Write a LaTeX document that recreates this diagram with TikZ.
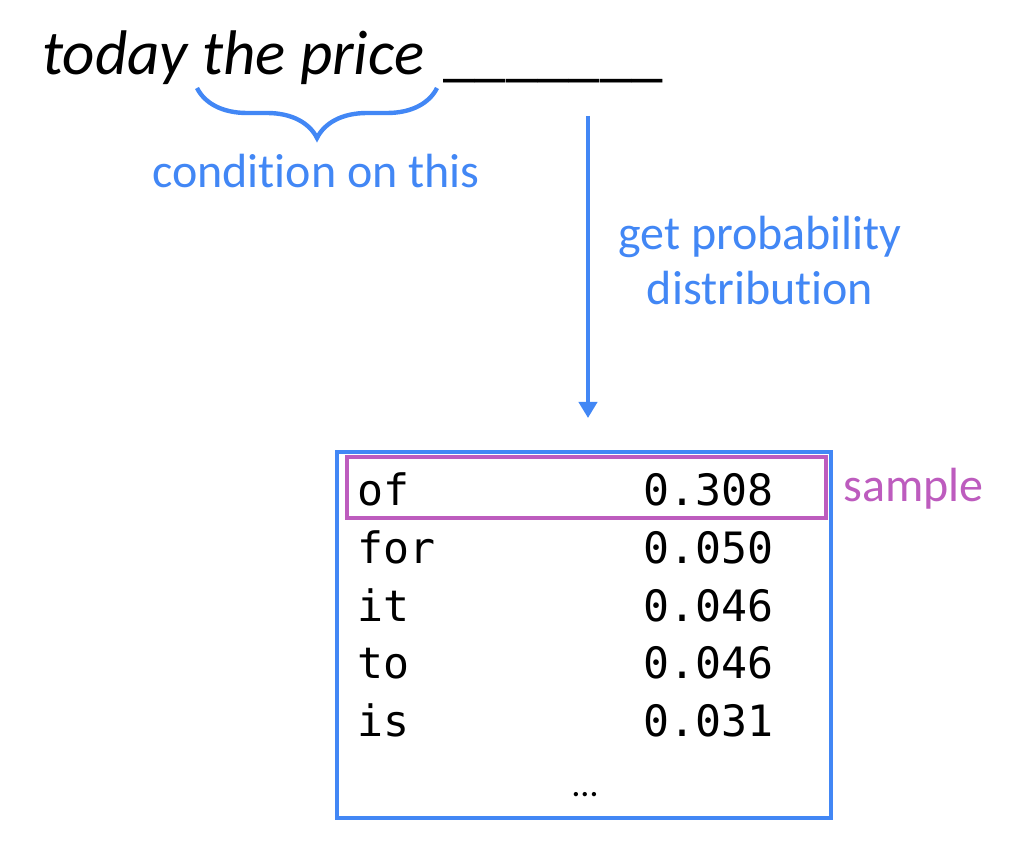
\documentclass[tikz,border=0pt]{standalone}
\usepackage{fontspec}
\setmainfont{Carlito}[Ligatures=NoCommon]
\setmonofont{DejaVu Sans Mono}
\usetikzlibrary{arrows.meta,decorations.pathreplacing}
\definecolor{hintblue}{RGB}{66,135,245}
\definecolor{samplepurple}{RGB}{189,92,190}

\begin{document}
\begin{tikzpicture}[x=.5pt,y=-.5pt,>={Triangle[width=9pt,length=8pt]},
	label/.style={text=hintblue,font=\fontsize{24}{28}\selectfont,inner sep=0pt},
	token/.style={font=\ttfamily\fontsize{21.6}{26}\selectfont,inner sep=0pt}]
	\useasboundingbox (0,0) rectangle (1024,866);
	
	\begin{scope}[inner sep=0pt]
		\node[anchor=base west,font=\itshape\fontsize{31.5}{36}\selectfont] (prefix) at (42,75) {today the price};
		\node[anchor=base west,font=\fontsize{31.5}{36}\selectfont] (blank) at (443,75) {\_\_\_\_\_\_\_};
	\end{scope}
	
	\draw[hintblue,line width=2.2pt,decorate,decoration={brace,amplitude=25pt}] (437,88) -- (197,88);
	\node[label,anchor=base] (cond) at (316,188) {condition on this};
	
	\coordinate (arrtop) at (588,116);
	\coordinate (arrtip) at (588,418);
	\draw[->,hintblue,line width=2pt] (arrtop) -- (arrtip);
	\node[label,anchor=base] (getprob) at (760,250) {get probability};
	\node[label,anchor=base] (distr) at (760,305) {distribution};
	
	\node[draw=hintblue,line width=2.2pt,minimum width=247pt,minimum height=183pt,inner sep=0pt] (dist) at (584,635) {};
	\node[draw=samplepurple,line width=2.2pt,minimum width=239.5pt,minimum height=30.5pt,inner sep=0pt] (pick) at (586.5,487.5) {};
	\node[label,text=samplepurple,anchor=base west] (samplelbl) at (843,502) {sample};
	
	\foreach \w/\p [count=\i from 0] in {of/0.308,for/0.050,it/0.046,to/0.046,is/0.031} {
		\node[token,anchor=base west] (word\i) at (357,506+\i*57.5) {\w};
		\node[token,anchor=base east] (prob\i) at (774,506+\i*57.5) {\p};
	}
	\node[inner sep=0pt,font=\fontsize{18}{20}\selectfont,anchor=base] (more) at (585,796) {\ldots};
	
\end{tikzpicture}
\end{document}
